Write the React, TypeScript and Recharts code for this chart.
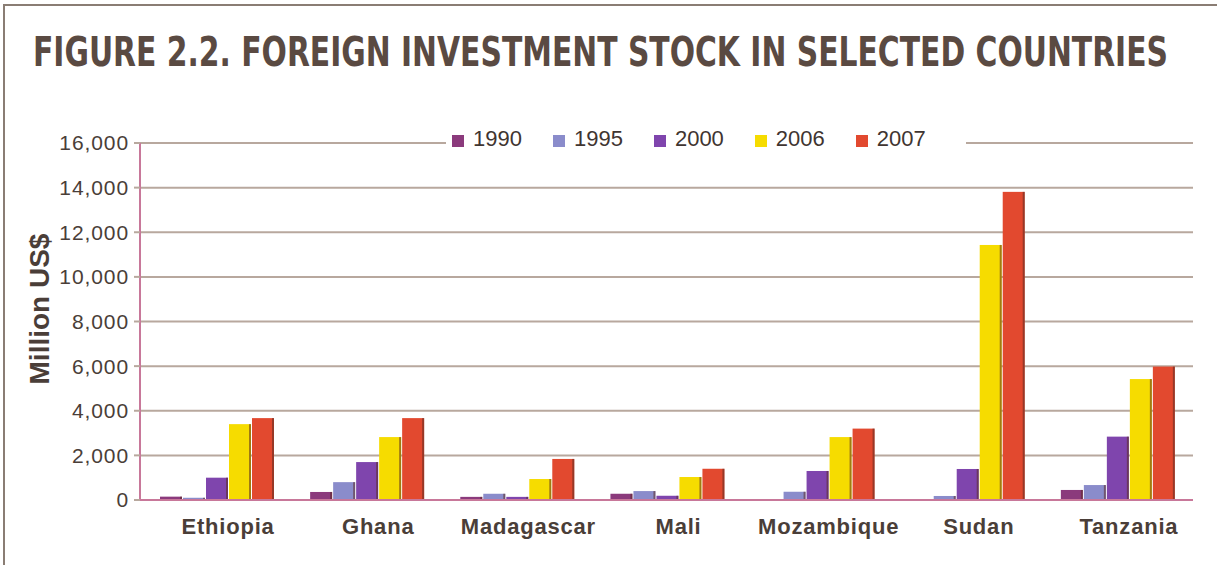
import { useMemo } from "react";
import { BarChart, Bar, XAxis, YAxis, CartesianGrid } from "recharts";

const countries = ["Ethiopia", "Ghana", "Madagascar", "Mali", "Mozambique", "Sudan", "Tanzania"];
const years = ["1990", "1995", "2000", "2006", "2007"];
const colors = ["#8b3a7c", "#8a8ccb", "#7f45ad", "#f6dc00", "#e2492f"];

const v1990 = [150, 360, 140, 280, 30, 30, 450];
const v1995 = [100, 800, 280, 400, 370, 180, 670];
const v2000 = [1000, 1700, 140, 190, 1300, 1390, 2840];
const v2006 = [3400, 2820, 940, 1030, 2820, 11430, 5420];
const v2007 = [3670, 3670, 1840, 1400, 3200, 13810, 5980];
const seriesValues = [v1990, v1995, v2000, v2006, v2007];

const yTicks = [0, 2000, 4000, 6000, 8000, 10000, 12000, 14000, 16000];

const TITLE = "FIGURE 2.2. FOREIGN INVESTMENT STOCK IN SELECTED COUNTRIES";

const data = countries.map((c, i) => {
  const row: Record<string, string | number> = { country: c };
  years.forEach((y, k) => (row[y] = seriesValues[k][i]));
  return row;
});

const FONT = "'Liberation Sans', Arial, sans-serif";
const TITLE_FONT = "'DejaVu Sans Condensed', 'DejaVu Sans', sans-serif";
const TEXT = "#4a3e38";

// bar with a thin dark edge on the right, like the printed original
function ShadowBar(props: any) {
  const { x, y, width, height, fill } = props;
  if (!height || height <= 0) return null;
  return (
    <g>
      <rect x={x} y={y} width={width} height={height} fill={fill} />
      <rect x={x + width - 2} y={y} width={2} height={height} fill="#5a2a20" opacity={0.55} />
    </g>
  );
}

export default function App() {
  // squeeze the title horizontally so it spans the same width as in the print
  const titleScale = useMemo(() => {
    const ctx = document.createElement("canvas").getContext("2d");
    if (!ctx) return 0.85;
    ctx.font = `bold 40px ${TITLE_FONT}`;
    const w = ctx.measureText(TITLE).width;
    return w > 0 ? 1135 / w : 0.85;
  }, []);

  return (
    <div style={{ position: "fixed", left: 0, top: 0, width: 1217, height: 565, background: "#fff", overflow: "hidden" }}>
      <div
        style={{
          position: "absolute",
          left: 3,
          top: 4,
          width: 1230,
          height: 600,
          borderLeft: "2px solid #8a7d74",
          borderTop: "2px solid #8a7d74",
        }}
      />
      <div
        style={{
          position: "absolute",
          left: 33,
          top: 29,
          whiteSpace: "nowrap",
          fontFamily: TITLE_FONT,
          fontWeight: "bold",
          fontSize: 40,
          lineHeight: "46px",
          color: "#5a4a42",
          transform: `scaleX(${titleScale})`,
          transformOrigin: "left top",
        }}
      >
        {TITLE}
      </div>
      <svg width={1217} height={565} style={{ position: "absolute", left: 0, top: 0 }}>
        <text
          transform="translate(49,309) rotate(-90)"
          textAnchor="middle"
          fontFamily={FONT}
          fontWeight="bold"
          fontSize={28}
          fill={TEXT}
        >
          Million US$
        </text>
      </svg>
      <div style={{ position: "absolute", left: 0, top: 0 }}>
        <BarChart
          width={1217}
          height={565}
          data={data}
          margin={{ top: 143, right: 24, bottom: 5, left: 0 }}
          barSize={22}
          barGap={1}
        >
          <CartesianGrid vertical={false} stroke="#b8a89e" strokeWidth={2} />
          <XAxis
            dataKey="country"
            height={60}
            padding={{ left: 2, right: 0 }}
            axisLine={{ stroke: "#c8789a", strokeWidth: 2 }}
            tickLine={false}
            tickMargin={12}
            tick={{ fill: TEXT, fontSize: 22, fontWeight: "bold", fontFamily: FONT, dx: 11, letterSpacing: 0.8 }}
            interval={0}
          />
          <YAxis
            width={140}
            domain={[0, 16000]}
            ticks={yTicks}
            interval={0}
            tickFormatter={(v: number) => v.toLocaleString("en-US")}
            axisLine={{ stroke: "#c8789a", strokeWidth: 2 }}
            tickLine={{ stroke: "#b8a89e", strokeWidth: 2 }}
            tickSize={6}
            tickMargin={5}
            tick={{ fill: TEXT, fontSize: 21, fontFamily: FONT, letterSpacing: 0.9 }}
          />
          {years.map((y, k) => (
            <Bar key={y} dataKey={y} fill={colors[k]} shape={ShadowBar} isAnimationActive={false} />
          ))}
        </BarChart>
      </div>
      <div
        style={{
          position: "absolute",
          left: 446,
          top: 127,
          height: 24,
          width: 520,
          background: "#fff",
          display: "flex",
          alignItems: "center",
          fontFamily: FONT,
          fontSize: 22,
          color: "#3f3531",
        }}
      >
        {years.map((y, k) => (
          <div key={y} style={{ display: "flex", alignItems: "center", marginLeft: k === 0 ? 6 : 31 }}>
            <span style={{ width: 12, height: 12, background: colors[k], marginRight: 9, marginTop: 3 }} />
            <span>{y}</span>
          </div>
        ))}
      </div>
    </div>
  );
}
